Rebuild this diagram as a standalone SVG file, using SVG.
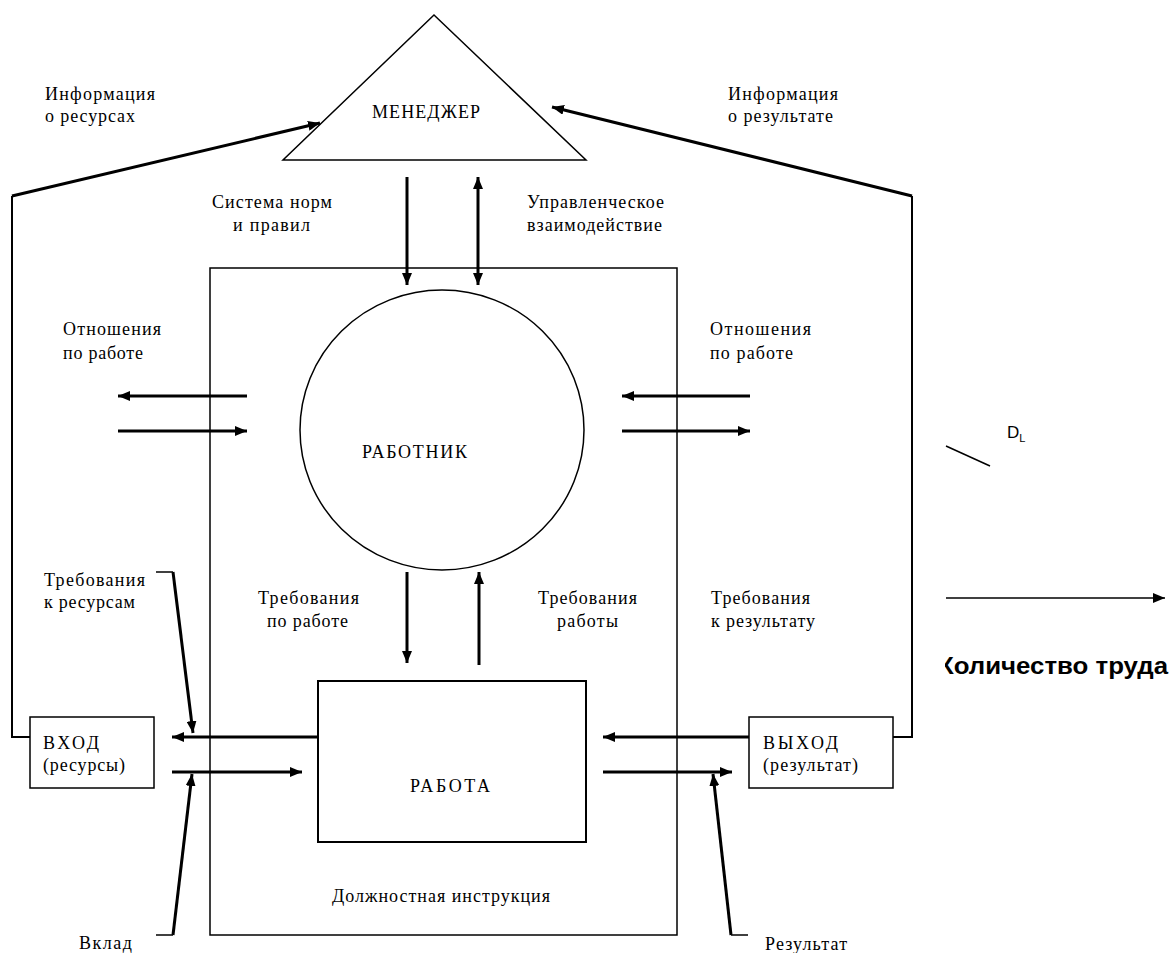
<svg xmlns="http://www.w3.org/2000/svg" width="1171" height="953" viewBox="0 0 1171 953">
<style>
.t{font-family:"Liberation Serif","Times New Roman",serif;font-size:18px;fill:#000}
.s{fill:none;stroke:#000}
.th{stroke-width:3}
.md{stroke-width:2}
.tn{stroke-width:1.5}
</style>
<defs>
<marker id="ah" viewBox="0 0 12 10" refX="12" refY="5" markerWidth="12" markerHeight="10" markerUnits="userSpaceOnUse" orient="auto-start-reverse"><path d="M0,0 L12,5 L0,10 z" fill="#000"/></marker>
<clipPath id="clipK"><rect x="945" y="630" width="226" height="60"/></clipPath>
</defs>
<rect width="1171" height="953" fill="#fff"/>

<g id="frame"><rect class="s tn" x="210" y="268" width="467" height="667"/></g>
<g id="manager">
<polygon class="s tn" points="434,15 586,160 283,160" fill="#fff"/>
<text class="t" x="372" y="118" textLength="108" lengthAdjust="spacing">МЕНЕДЖЕР</text>
</g>
<g id="worker">
<ellipse class="s tn" cx="442" cy="430" rx="142" ry="140" fill="#fff"/>
<text class="t" x="362" y="458" textLength="105" lengthAdjust="spacing">РАБОТНИК</text>
</g>
<g id="work">
<rect class="s md" x="318" y="681" width="268" height="161" fill="#fff"/>
<text class="t" x="410" y="792" textLength="80" lengthAdjust="spacing">РАБОТА</text>
</g>
<g id="input">
<rect class="s tn" x="30" y="717" width="124" height="71" fill="#fff"/>
<text class="t" x="43" y="749" textLength="56" lengthAdjust="spacing">ВХОД</text>
<text class="t" x="43" y="771" textLength="82" lengthAdjust="spacing">(ресурсы)</text>
</g>
<g id="output">
<rect class="s tn" x="749" y="717" width="144" height="71" fill="#fff"/>
<text class="t" x="763" y="749" textLength="75" lengthAdjust="spacing">ВЫХОД</text>
<text class="t" x="763" y="771" textLength="95" lengthAdjust="spacing">(результат)</text>
</g>

<g id="connectors">
<polyline class="s md" points="30,737 12,737 12,196"/>
<line class="s th" x1="12" y1="196" x2="320" y2="123" marker-end="url(#ah)"/>
<polyline class="s md" points="893,737 912,737 912,196"/>
<line class="s th" x1="912" y1="196" x2="552" y2="107" marker-end="url(#ah)"/>
<line class="s th" x1="407" y1="177" x2="407" y2="285" marker-end="url(#ah)"/>
<line class="s th" x1="478" y1="177" x2="478" y2="285" marker-start="url(#ah)" marker-end="url(#ah)"/>
<line class="s th" x1="247" y1="396" x2="118" y2="396" marker-end="url(#ah)"/>
<line class="s th" x1="118" y1="431" x2="247" y2="431" marker-end="url(#ah)"/>
<line class="s th" x1="750" y1="396" x2="622" y2="396" marker-end="url(#ah)"/>
<line class="s th" x1="622" y1="431" x2="750" y2="431" marker-end="url(#ah)"/>
<line class="s th" x1="407" y1="572" x2="407" y2="663" marker-end="url(#ah)"/>
<line class="s th" x1="479" y1="665" x2="479" y2="572" marker-end="url(#ah)"/>
<line class="s th" x1="318" y1="737" x2="172" y2="737" marker-end="url(#ah)"/>
<line class="s th" x1="172" y1="772" x2="302" y2="772" marker-end="url(#ah)"/>
<line class="s th" x1="749" y1="737" x2="603" y2="737" marker-end="url(#ah)"/>
<line class="s th" x1="603" y1="772" x2="732" y2="772" marker-end="url(#ah)"/>
<line class="s tn" x1="156" y1="572" x2="173" y2="572"/>
<line class="s th" x1="173" y1="572" x2="193" y2="733" marker-end="url(#ah)"/>
<line class="s tn" x1="156" y1="935" x2="173" y2="935"/>
<line class="s th" x1="173" y1="935" x2="192" y2="774" marker-end="url(#ah)"/>
<line class="s tn" x1="748" y1="935" x2="731" y2="935"/>
<line class="s th" x1="731" y1="935" x2="713" y2="774" marker-end="url(#ah)"/>
<line class="s tn" x1="946" y1="446" x2="990" y2="466"/>
<line class="s tn" x1="946" y1="598" x2="1165" y2="598" marker-end="url(#ah)"/>
</g>

<g id="labels">
<text class="t" x="45" y="100" textLength="110" lengthAdjust="spacing">Информация</text>
<text class="t" x="45" y="122" textLength="90" lengthAdjust="spacing">о ресурсах</text>
<text class="t" x="728" y="100" textLength="110" lengthAdjust="spacing">Информация</text>
<text class="t" x="728" y="122" textLength="105" lengthAdjust="spacing">о результате</text>
<text class="t" x="212" y="208" textLength="120" lengthAdjust="spacing">Система норм</text>
<text class="t" x="233" y="231" textLength="77" lengthAdjust="spacing">и правил</text>
<text class="t" x="527" y="208" textLength="137" lengthAdjust="spacing">Управленческое</text>
<text class="t" x="527" y="231" textLength="135" lengthAdjust="spacing">взаимодействие</text>
<text class="t" x="63" y="335" textLength="98" lengthAdjust="spacing">Отношения</text>
<text class="t" x="63" y="359" textLength="80" lengthAdjust="spacing">по работе</text>
<text class="t" x="710" y="335" textLength="101" lengthAdjust="spacing">Отношения</text>
<text class="t" x="710" y="359" textLength="83" lengthAdjust="spacing">по работе</text>
<text class="t" x="44" y="586" textLength="101" lengthAdjust="spacing">Требования</text>
<text class="t" x="44" y="608" textLength="91" lengthAdjust="spacing">к ресурсам</text>
<text class="t" x="258" y="604" textLength="101" lengthAdjust="spacing">Требования</text>
<text class="t" x="267" y="627" textLength="81" lengthAdjust="spacing">по работе</text>
<text class="t" x="538" y="604" textLength="99" lengthAdjust="spacing">Требования</text>
<text class="t" x="557" y="627" textLength="61" lengthAdjust="spacing">работы</text>
<text class="t" x="711" y="604" textLength="99" lengthAdjust="spacing">Требования</text>
<text class="t" x="711" y="627" textLength="104" lengthAdjust="spacing">к результату</text>
<text class="t" x="332" y="902" textLength="218" lengthAdjust="spacing">Должностная инструкция</text>
<text class="t" x="79" y="949" textLength="53" lengthAdjust="spacing">Вклад</text>
<text class="t" x="765" y="950" textLength="82" lengthAdjust="spacing">Результат</text>
<text x="1007" y="438" font-family="Liberation Sans, Arial, sans-serif" font-size="17">D<tspan font-size="11" dy="4">L</tspan></text>
<g clip-path="url(#clipK)"><text x="938" y="674" font-family="Liberation Sans, Arial, sans-serif" font-size="23" font-weight="bold" textLength="230" lengthAdjust="spacingAndGlyphs">Количество труда</text></g>
</g>
</svg>
